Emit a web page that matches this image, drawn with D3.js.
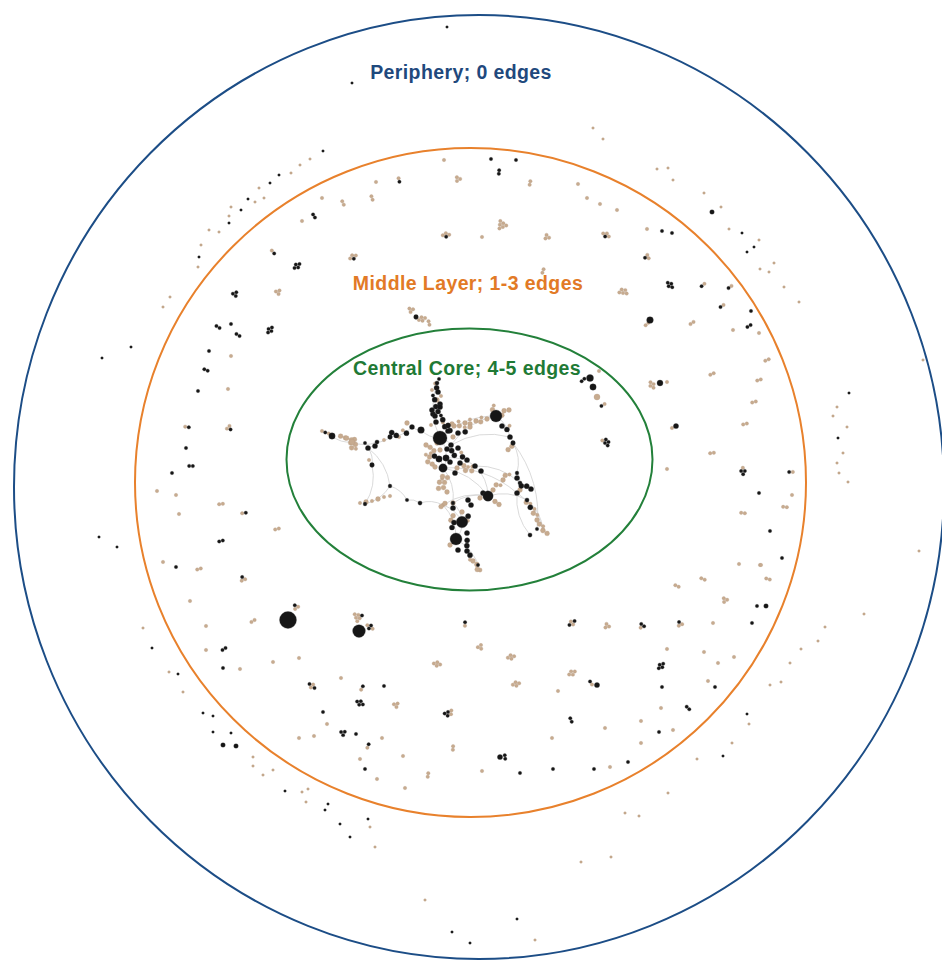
<!DOCTYPE html>
<html>
<head>
<meta charset="utf-8">
<title>Network layers</title>
<script src="https://cdn.jsdelivr.net/npm/d3@7"></script>
<style>
  html, body { margin: 0; background: #fff; }
  svg { display: block; }
</style>
</head>
<body>
<svg id="chart" width="942" height="961"></svg>
<script>
// ---------------------------------------------------------------
// Layers of the network, from the outside in
// ---------------------------------------------------------------
const layerNames = ["Periphery; 0 edges", "Middle Layer; 1-3 edges", "Central Core; 4-5 edges"];

// Node type codes: b = black node, t = tan node; upper case = heavier node
// Isolated nodes (no edges): [x, y, type] in layout units
const isolates = [
  [447,27,"b"],[352,83,"b"],[593,128,"t"],[603,139,"t"],
  [323,151,"b"],[310,159,"t"],[300,165,"t"],[291,173,"t"],[279,175,"b"],[270,183,"b"],[259,188,"t"],
  [248,199,"b"],[255,202,"t"],[264,198,"t"],[241,210,"b"],[231,207,"t"],[229,216,"t"],[229,223,"b"],
  [209,230,"t"],[219,232,"t"],[201,245,"t"],[199,257,"b"],[198,267,"t"],[170,297,"t"],[163,307,"t"],
  [131,347,"b"],[102,358,"b"],[99,537,"b"],[117,547,"b"],
  [143,628,"t"],[152,648,"b"],[169,672,"t"],[178,674,"b"],[183,692,"t"],
  [203,713,"b"],[213,716,"b"],[213,732,"b"],[231,733,"b"],[223,745,"B"],[236,746,"B"],
  [253,757,"t"],[253,766,"t"],[263,775,"t"],[273,770,"t"],[285,791,"b"],[302,792,"t"],[308,789,"t"],
  [306,802,"t"],[328,804,"b"],[325,810,"b"],[340,824,"b"],[368,819,"b"],[370,827,"t"],[350,837,"b"],[375,847,"t"],
  [425,900,"t"],[452,932,"b"],[470,943,"b"],[517,919,"b"],[535,940,"t"],[581,862,"t"],[611,857,"t"],
  [625,813,"t"],[639,816,"t"],[668,793,"t"],[697,759,"t"],[723,756,"b"],[732,743,"t"],[749,724,"t"],[747,714,"b"],
  [770,685,"t"],[781,682,"t"],[790,663,"t"],[801,649,"t"],[818,641,"t"],[825,627,"t"],[864,614,"t"],[919,551,"t"],
  [848,482,"t"],[839,473,"t"],[837,463,"t"],[843,453,"t"],[838,438,"b"],[847,427,"t"],[833,416,"t"],[837,407,"t"],
  [849,393,"b"],[923,360,"t"],
  [799,302,"t"],[784,287,"t"],[774,263,"t"],[769,272,"t"],[760,269,"t"],[759,240,"t"],[754,247,"b"],[747,252,"b"],
  [742,233,"b"],[729,229,"t"],[721,207,"t"],[712,212,"B"],[704,193,"t"],[673,180,"t"],[668,168,"t"],[657,169,"t"]
];

// Small connected components: [x, y, members] - the first member sits at the centre
const clumps = [
  // upper left
  [322,198,"t"],[343,203,"tt"],[372,198,"tt"],[376,182,"t"],[399,180,"bt"],[444,160,"t"],[458,179,"ttt"],
  [302,221,"t"],[314,216,"bb"],[353,257,"bttt"],[446,235,"bttt"],[273,252,"bt"],[297,266,"bbbb"],
  [235,294,"bbb"],[278,292,"ttt"],[218,327,"bb"],[231,324,"b"],[238,335,"bb"],[270,330,"bbbb"],
  [411,310,"ttt"],[422,319,"tttt"],[429,323,"tt"],[209,351,"b"],[231,356,"t"],[206,370,"bb"],
  // upper right
  [491,159,"b"],[516,160,"b"],[499,172,"bb"],[530,183,"tt"],[578,184,"t"],[587,198,"t"],[600,204,"t"],[617,210,"t"],
  [502,225,"tttttt"],[482,237,"t"],[547,237,"ttt"],[606,235,"bttt"],[647,229,"t"],[662,231,"b"],[672,233,"b"],
  [647,257,"btt"],[543,271,"tt"],[670,285,"bbbb"],[703,285,"bt"],[730,287,"bt"],[623,293,"ttttt"],
  [647,324,"tt"],[692,323,"tt"],[722,306,"bt"],[751,311,"b"],[749,326,"bb"],[733,330,"t"],[759,333,"t"],
  // right
  [583,380,"bb"],[603,405,"bt"],[599,371,"t"],
  [652,385,"tttt"],[667,382,"t"],[712,374,"tt"],[767,360,"tt"],[759,380,"tt"],[754,402,"tt"],[745,424,"tt"],
  [672,428,"t"],[605,443,"bbbbt"],[712,453,"tt"],[667,469,"t"],[743,471,"bbbt"],[791,472,"bt"],
  [759,493,"b"],[792,495,"t"],[785,507,"tt"],[743,513,"tt"],[770,531,"b"],[782,558,"b"],[760,565,"t"],
  [768,579,"tt"],[757,606,"b"],[752,623,"b"],
  // lower right
  [739,564,"t"],[761,565,"t"],[703,579,"tt"],[677,586,"tt"],[725,600,"ttt"],[572,623,"ttbb"],[607,626,"ttt"],
  [642,626,"bbt"],[680,624,"btt"],[713,623,"t"],[480,647,"ttt"],[511,657,"tttt"],[667,649,"t"],[704,652,"t"],
  [734,657,"t"],[718,663,"t"],[661,666,"bbbb"],[572,673,"tttt"],[591,683,"bt"],[516,684,"tttt"],[558,691,"t"],
  [662,687,"b"],[708,681,"t"],[715,687,"b"],[688,708,"bb"],[661,708,"t"],[571,720,"bb"],[605,728,"t"],
  [641,721,"t"],[659,732,"b"],[673,730,"t"],[552,738,"t"],[641,743,"t"],[505,757,"bb"],[520,773,"b"],
  [553,769,"b"],[594,769,"b"],[628,762,"b"],[610,767,"t"],[482,771,"t"],
  // lower left
  [199,569,"tt"],[176,567,"b"],[163,562,"t"],[243,579,"ttb"],[296,607,"ttb"],[358,617,"ttttbt"],[370,627,"bbtt"],
  [465,624,"bt"],[190,601,"t"],[206,626,"t"],[253,621,"tt"],[206,650,"t"],[224,649,"bb"],[223,668,"b"],
  [240,669,"t"],[273,662,"t"],[299,658,"t"],[341,678,"t"],[312,686,"ttbb"],[362,688,"bt"],[384,686,"b"],
  [360,703,"bbbb"],[396,705,"ttt"],[437,664,"tttt"],[448,712,"bbbtt"],[323,712,"b"],[327,724,"t"],
  [343,733,"bbb"],[356,734,"b"],[299,738,"t"],[314,736,"t"],[382,738,"t"],[368,746,"bt"],[453,748,"tt"],
  [403,756,"t"],[360,759,"t"],[365,769,"b"],[377,779,"t"],[405,788,"t"],[428,775,"tt"],
  // left
  [198,391,"b"],[228,389,"t"],[187,427,"bt"],[229,428,"btt"],[186,448,"b"],[191,466,"bb"],[172,473,"b"],
  [157,491,"t"],[176,495,"t"],[179,514,"t"],[221,504,"tt"],[244,513,"bt"],[277,529,"tt"],[221,541,"bb"],
  // inside the core: vertical branch above the main hub
  [436,386,"Bt"],[438,392,"B"],[434,398,"Bb"],[440,404,"B"],[437,409,"BBt"],[433,414,"B"],[442,418,"Bb"],
  [436,422,"B"],[444,425,"Bt"],[431,425,"t"],[441,396,"t"],[439,379,"b"],[432,390,"t"],
  // left branch
  [343,437,"TT"],[327,433,"tb"],[322,431,"t"],[354,444,"TTTTt"],[349,439,"TT"],[394,434,"BB"],[384,440,"t"],
  [369,460,"t"],[375,446,"B"],[405,432,"Bt"],[399,437,"t"],[365,443,"b"],
  [360,503,"t"],[366,502,"T"],[372,501,"t"],[378,499,"T"],[384,497,"t"],[390,496,"t"],
  // branch towards the upper-right hub
  [449,428,"BB"],[454,426,"T"],[459,424,"Tt"],[465,423,"T"],[470,422,"Tt"],[476,421,"T"],[481,420,"Tt"],[487,419,"T"],
  [503,413,"TT"],[509,410,"T"],[493,408,"Tt"],[502,426,"B"],[508,428,"Bt"],
  [510,448,"TT"],[517,478,"B"],[524,486,"BB"],[520,490,"T"],[531,489,"B"],
  [493,490,"T"],[498,485,"Tt"],[503,480,"T"],[507,475,"Tt"],[483,493,"B"],[497,503,"TT"],[480,498,"T"],
  [528,503,"Tt"],[532,508,"Bt"],[535,514,"Tt"],[537,520,"T"],[541,525,"Tt"],[545,532,"TT"],
  // lower hubs and the branch below them
  [453,525,"BB"],[468,518,"Bt"],[467,533,"B"],[458,550,"B"],[467,543,"BB"],[452,518,"TT"],[450,545,"T"],[462,512,"T"],
  [467,551,"B"],[470,557,"Bt"],[473,561,"T"],[477,567,"TT"],[478,565,"b"],
  // dense centre
  [453,453,"BB"],[458,448,"B"],[462,455,"Bt"],[467,460,"B"],[433,455,"Bt"],[447,449,"B"],[440,450,"T"],
  [445,477,"TT"],[442,482,"TTt"],[430,463,"TT"],[435,467,"T"],[465,468,"TTt"],[472,469,"Tt"],[481,471,"B"],
  [455,473,"B"],[460,463,"B"],[432,449,"TT"],[428,456,"Tt"],[437,443,"T"],[453,437,"T"],[458,433,"B"],
  [448,431,"B"],[452,424,"T"],[465,430,"Bt"],[470,427,"T"],[407,423,"T"],[435,416,"B"],[432,410,"B"],
  [440,407,"B"],[437,400,"T"],[441,488,"TT"],[447,492,"T"],[443,505,"TT"],[453,503,"T"],
  [468,500,"B"],[471,505,"B"],[453,508,"B"],[426,445,"T"],[450,462,"B"],[457,468,"T"]
];

// Heavier stand-alone nodes: [x, y, weight, type]
const hubs = [
  [288,620,32,"b"],[359,631,18,"b"],[650,320,5,"b"],[660,383,4,"b"],[676,426,3,"b"],[766,606,2.4,"b"],
  [597,685,3,"b"],[500,757,3,"b"],[590,378,5.5,"b"],[593,387,4.5,"b"],[597,397,4,"t"],[416,317,2.5,"b"]
];

// Central core nodes: [id, x, y, weight, type]
const coreNodes = [
  ["A",440,438,22,"b"],["B",496,416,16,"b"],["C",488,496,12,"b"],["D",462,522,15,"b"],["E",456,539,16,"b"],
  ["F",443,468,8,"b"],["G",421,430,5,"b"],["H",332,436,4.5,"b"],
  ["n1",412,427,2.8,"b"],["n2",390,437,2.5,"b"],["n3",377,442,2,"b"],["n4",368,448,3,"b"],["n5",372,465,2.5,"b"],
  ["n6",390,486,1.6,"b"],["n7",420,503,2,"b"],["n8",443,505,1.6,"t"],["n9",510,437,3,"b"],["n10",513,443,2.5,"b"],
  ["n11",517,473,1.6,"b"],["n12",520,483,2,"b"],["n13",517,493,3,"b"],["n14",527,500,2,"b"],["n15",543,530,2,"t"],
  ["n16",480,570,2,"t"],["n17",437,383,2,"b"],["n18",475,466,3,"b"],["n19",365,504,1.6,"b"],["n20",453,503,1.6,"b"],
  ["n21",537,529,1.4,"b"],["n22",530,535,2,"b"],["n23",446,458,4.5,"b"],["n24",439,459,4.5,"b"],["n25",451,445,3,"b"],
  ["n26",352,442,3.5,"t"],["n27",407,500,1.4,"b"]
];

// Central core edges: [source, target]
const coreLinks = [
  ["A","B"],["A","G"],["G","n1"],["n1","n2"],["n2","n3"],["n3","n26"],["n26","H"],["n3","n4"],["n4","n5"],
  ["n4","n6"],["n6","n27"],["n27","n7"],["n7","n8"],["n8","C"],["n6","n19"],["C","n14"],["n14","n15"],
  ["n13","n15"],["B","n9"],["n9","n10"],["n10","n11"],["n11","n12"],["n12","n13"],["n10","n21"],["n18","n12"],
  ["A","n23"],["n23","F"],["F","n20"],["n20","D"],["D","E"],["E","n16"],["n18","C"],["A","n17"],["n24","F"],
  ["n25","B"],["F","C"],["n8","E"],["n22","n13"],["A","n25"],["n5","n19"],["n25","n9"],["F","n13"],
  ["n20","C"],["n8","D"],["n23","n18"]
];

// ---------------------------------------------------------------
// Layout and styling
// ---------------------------------------------------------------
const W = 942, H = 961;
const svg = d3.select("#chart");

const x = d3.scaleLinear().domain([0, 942]).range([0, W]);
const y = d3.scaleLinear().domain([0, 961]).range([0, H]);
const radius = d3.scaleSqrt().domain([0, 32]).range([0, 8.5]);

const letterWeight = { b: 1.35, t: 1.35, B: 3, T: 2.6 };
const isolateWeight = { b: 0.75, t: 0.75, B: 2.4, T: 2.4 };
const kind = c => (c.toLowerCase() === "b" ? "black" : "tan");
const nodeFill = { black: "#161616", tan: "#c7ab8f" };

// layer boundaries (layout units): centre and radii
const rings = [
  { cx: 479,   cy: 487,   rx: 465,   ry: 472,   stroke: "#1c4d86" },
  { cx: 470.5, cy: 482.5, rx: 335.5, ry: 334.5, stroke: "#e8812c" },
  { cx: 469.5, cy: 459.5, rx: 183,   ry: 131,   stroke: "#23803a" }
];
const labelStyle = [
  { ax: 461, by: 79,  fill: "#1f497d" },
  { ax: 468, by: 290, fill: "#e27a26" },
  { ax: 467, by: 375, fill: "#1f7a35" }
];
const hubCentre = [470, 483];

// ---------------------------------------------------------------
// Build node list in pixel space
// ---------------------------------------------------------------
const nodes = [];
isolates.forEach(([nx, ny, c]) =>
  nodes.push({ px: x(nx), py: y(ny), r: radius(isolateWeight[c]), type: kind(c) }));
hubs.forEach(([nx, ny, w, c]) =>
  nodes.push({ px: x(nx), py: y(ny), r: radius(w), type: kind(c) }));

const coreById = new Map();
coreNodes.forEach(([id, nx, ny, w, c]) => {
  const n = { id, px: x(nx), py: y(ny), r: radius(w), type: kind(c) };
  coreById.set(id, n);
  nodes.push(n);
});

clumps.forEach(([cx, cy, members]) => {
  const circles = members.split("").map(ch => ({ r: radius(letterWeight[ch]) + 0.1, ch }));
  d3.packSiblings(circles);
  const ang = Math.atan2(cy - hubCentre[1], cx - hubCentre[0]);
  const cos = Math.cos(ang), sin = Math.sin(ang);
  circles.forEach(c => {
    nodes.push({
      px: x(cx) + c.x * cos - c.y * sin,
      py: y(cy) + c.x * sin + c.y * cos,
      r: c.r - 0.1,
      type: kind(c.ch)
    });
  });
});

// ---------------------------------------------------------------
// Draw
// ---------------------------------------------------------------
svg.append("rect").attr("width", W).attr("height", H).attr("fill", "#fff");

// core edges as gentle arcs
const edgeG = svg.append("g")
  .attr("fill", "none")
  .attr("stroke", "#d6d6d6")
  .attr("stroke-width", 0.9);
edgeG.selectAll("path")
  .data(coreLinks)
  .join("path")
  .attr("d", ([s, t]) => {
    const a = coreById.get(s), b = coreById.get(t);
    const d = Math.hypot(b.px - a.px, b.py - a.py) * 1.3;
    return `M${a.px},${a.py}A${d},${d} 0 0 1 ${b.px},${b.py}`;
  });

// layer rings
svg.append("g").attr("fill", "none")
  .selectAll("ellipse")
  .data(rings)
  .join("ellipse")
  .attr("cx", d => x(d.cx))
  .attr("cy", d => y(d.cy))
  .attr("rx", d => x(d.cx + d.rx) - x(d.cx))
  .attr("ry", d => y(d.cy + d.ry) - y(d.cy))
  .attr("stroke", d => d.stroke)
  .attr("stroke-width", 2);

// nodes: tan first, black on top, smaller before larger
const order = nodes.slice().sort((a, b) =>
  (a.type === b.type ? a.r - b.r : (a.type === "tan" ? -1 : 1)));
svg.append("g")
  .selectAll("circle")
  .data(order)
  .join("circle")
  .attr("cx", d => d.px)
  .attr("cy", d => d.py)
  .attr("r", d => d.r)
  .attr("fill", d => nodeFill[d.type])
  .attr("stroke", d => d.type === "tan" ? "#b59a80" : "#3a3a3a")
  .attr("stroke-width", 0.3);

// layer labels
svg.append("g")
  .attr("font-family", "'Liberation Sans', Arial, Helvetica, sans-serif")
  .attr("font-weight", "bold")
  .attr("font-size", 19.5)
  .attr("letter-spacing", 0.4)
  .attr("text-anchor", "middle")
  .selectAll("text")
  .data(layerNames)
  .join("text")
  .attr("x", (d, i) => x(labelStyle[i].ax))
  .attr("y", (d, i) => y(labelStyle[i].by))
  .attr("fill", (d, i) => labelStyle[i].fill)
  .text(d => d);
</script>
</body>
</html>
